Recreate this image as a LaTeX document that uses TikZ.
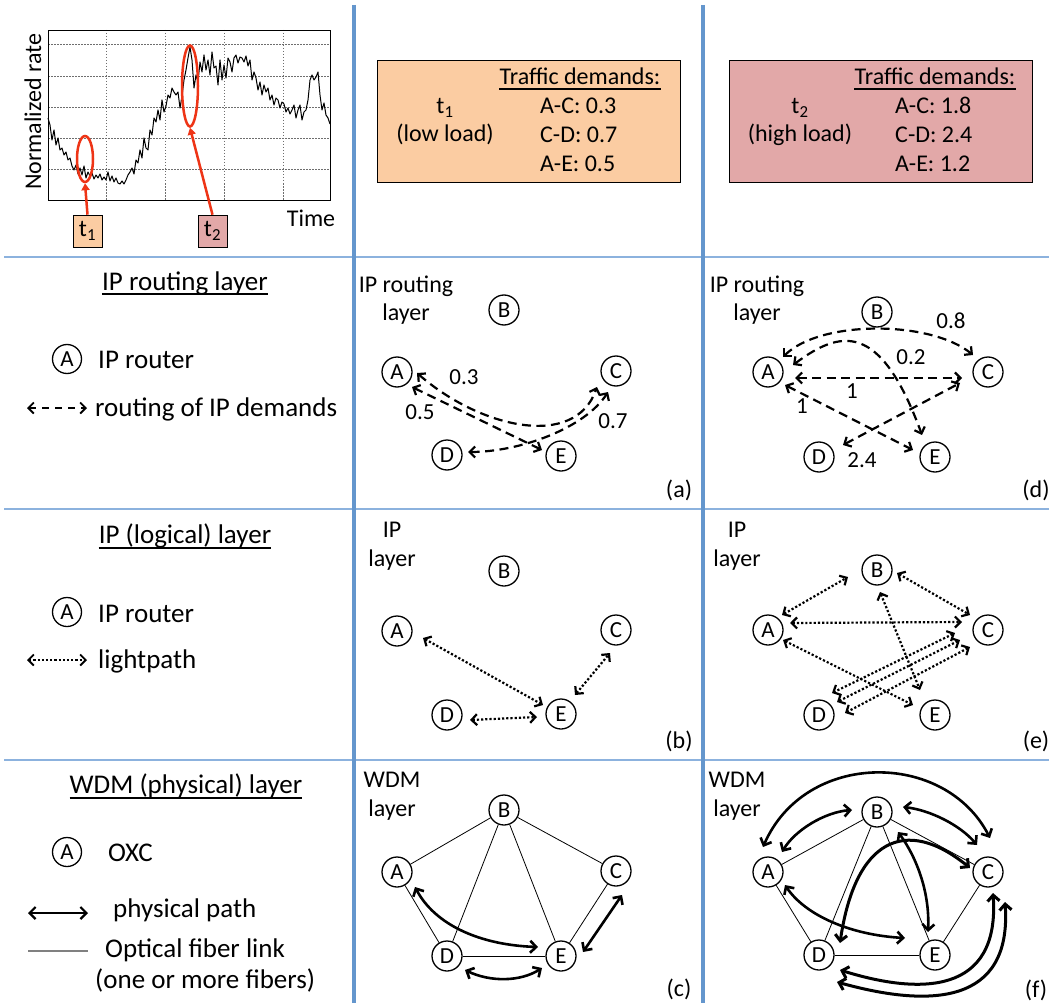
\documentclass[tikz,border=0pt]{standalone}
\usepackage{fontspec}
\setmainfont{Carlito}
\usetikzlibrary{arrows.meta,shapes.geometric,calc}
\definecolor{sepblue}{RGB}{100,150,205}
\definecolor{sepblue2}{RGB}{140,178,222}
\definecolor{peach}{RGB}{251,204,162}
\definecolor{rose}{RGB}{226,168,168}
\definecolor{redmark}{RGB}{238,52,22}
\definecolor{gridgray}{RGB}{110,110,110}
\newcommand{\myfs}[1]{\fontsize{#1}{#1}\selectfont}
\tikzset{
  nd/.style={circle, draw, line width=1.3pt, minimum size=30pt, inner sep=0pt, font=\myfs{23}},
  lnd/.style={circle, draw, line width=1.3pt, minimum size=29pt, inner sep=0pt, font=\myfs{23}},
  dsh/.style={line width=2.2pt, dash pattern=on 9pt off 5.5pt, {Straight Barb[length=5.5pt,width=11pt]}-{Straight Barb[length=5.5pt,width=11pt]}},
  dtt/.style={line width=2.2pt, dash pattern=on 2.2pt off 2pt, {Straight Barb[length=5.5pt,width=11pt]}-{Straight Barb[length=5.5pt,width=11pt]}},
  phys/.style={line width=2.6pt, {Straight Barb[length=6pt,width=12pt]}-{Straight Barb[length=6pt,width=12pt]}},
  fib/.style={line width=0.8pt},
  lbl/.style={font=\myfs{24}, inner sep=0pt},
  num/.style={font=\myfs{23}, inner sep=0pt},
  big/.style={font=\myfs{27}, inner sep=0pt},
}
\begin{document}
\begin{tikzpicture}[x=1pt,y=-1pt]
\useasboundingbox (0,0) rectangle (1049,1003);
\fill[white] (0,0) rectangle (1049,1003);

% separators
\draw[sepblue2, line width=2pt] (4,257) -- (1049,257);
\draw[sepblue2, line width=2pt] (4,509) -- (1049,509);
\draw[sepblue2, line width=2pt] (4,760) -- (1049,760);
\draw[sepblue, line width=4.5pt] (354,5) -- (354,1003);
\draw[sepblue, line width=4.5pt] (703,5) -- (703,1003);

% ---------- chart ----------
\foreach \gx in {106,165,224,283} \draw[gridgray, line width=0.6pt, dash pattern=on 1.5pt off 1.5pt] (\gx,30) -- (\gx,200);
\foreach \gy in {44,76,107,138,169} \draw[gridgray, line width=0.6pt, dash pattern=on 1.5pt off 1.5pt] (48,\gy) -- (330,\gy);
\draw[line width=0.8pt] (48,30) rectangle (330,200);
\draw[line width=1pt, line join=round] plot coordinates {
(48,118) (50,125) (52,140) (54,130) (56,145) (58,138) (60,150) (62,148) (64,155) (66,152)
(68,160) (70,158) (72,166) (74,170) (76,165) (78,174) (80,168) (82,175) (84,166) (86,178)
(88,172) (90,176) (92,173) (94,179) (96,175) (98,178) (100,174) (102,180) (104,177) (106,180)
(108,172) (110,181) (112,176) (114,182) (116,178) (118,183) (120,184) (122,181) (124,184) (126,180)
(128,175) (130,172) (132,168) (134,174) (136,160) (138,163) (140,150) (142,158) (144,138) (146,148)
(148,150) (150,130) (152,135) (154,118) (156,122) (158,110) (160,120) (162,100) (164,112) (166,106)
(168,95) (170,98) (172,88) (174,92) (176,95) (178,92) (180,108) (182,96) (184,80) (186,70)
(188,58) (190,47) (192,60) (194,88) (196,75) (198,82) (200,62) (202,72) (204,55) (206,70)
(208,60) (210,75) (212,52) (214,68) (216,66) (218,85) (220,60) (222,80) (224,65) (226,78)
(228,58) (230,62) (232,72) (234,58) (236,55) (238,63) (240,57) (242,58) (244,62) (246,56)
(248,66) (250,60) (252,80) (254,72) (256,78) (258,90) (260,82) (262,95) (264,85) (266,92)
(268,88) (270,100) (272,95) (274,105) (276,98) (278,100) (280,108) (282,102) (284,104) (286,112)
(288,108) (290,114) (292,110) (294,105) (296,118) (298,110) (300,105) (302,120) (304,112) (306,110)
(308,100) (310,80) (312,75) (314,80) (316,77) (318,72) (320,95) (322,110) (324,103) (326,115)
(328,118) (330,124)};
\node[rotate=90, font=\myfs{24}] (ylab) at (33,112) {Normalized rate};
\node[font=\myfs{24}] (xlab) at (311,218) {Time};
\node[draw, fill=peach, line width=0.6pt, minimum width=29pt, minimum height=32pt, inner sep=0pt, font=\myfs{24}] (t1box) at (87.5,231) {t\textsubscript{1}};
\node[draw, fill=rose, line width=0.6pt, minimum width=29pt, minimum height=32pt, inner sep=0pt, font=\myfs{24}] (t2box) at (212.5,231) {t\textsubscript{2}};
\node[ellipse, draw=redmark, line width=2.5pt, minimum width=16pt, minimum height=46pt, inner sep=0pt] (e1) at (85,159) {};
\node[ellipse, draw=redmark, line width=2.5pt, minimum width=16pt, minimum height=81pt, inner sep=0pt] (e2) at (190,86) {};
\draw[redmark, line width=2.5pt, -{Triangle[length=7pt,width=8pt]}] (t1box.north) -- (e1.south);
\draw[redmark, line width=2.5pt, -{Triangle[length=7pt,width=8pt]}] (t2box.north) -- (e2.south);

% ---------- traffic boxes ----------
\node[draw, fill=peach, line width=0.8pt, minimum width=303pt, minimum height=122pt, inner sep=0pt, anchor=north west] (tb1) at (377,60) {};
\node[lbl, anchor=base] (td1) at (580,85) {Traffic demands:};
\draw[line width=1.2pt] ($(td1.base west)+(0,4)$) -- ($(td1.base east)+(0,4)$);
\node[lbl, anchor=base] (tt1) at (445,114) {t\textsubscript{1}};
\node[lbl, anchor=base] (tl1) at (445,142) {(low load)};
\node[lbl, anchor=base west] (d1a) at (540,114) {A-C: 0.3};
\node[lbl, anchor=base west] (d1b) at (540,143) {C-D: 0.7};
\node[lbl, anchor=base west] (d1c) at (540,172) {A-E: 0.5};

\node[draw, fill=rose, line width=0.8pt, minimum width=303pt, minimum height=122pt, inner sep=0pt, anchor=north west] (tb2) at (729,60) {};
\node[lbl, anchor=base] (td2) at (935,85) {Traffic demands:};
\draw[line width=1.2pt] ($(td2.base west)+(0,4)$) -- ($(td2.base east)+(0,4)$);
\node[lbl, anchor=base] (tt2) at (800,114) {t\textsubscript{2}};
\node[lbl, anchor=base] (tl2) at (800,142) {(high load)};
\node[lbl, anchor=base west] (d2a) at (895,114) {A-C: 1.8};
\node[lbl, anchor=base west] (d2b) at (895,143) {C-D: 2.4};
\node[lbl, anchor=base west] (d2c) at (895,172) {A-E: 1.2};

% ---------- left legend ----------
\node[big, anchor=base] (h1) at (185,290) {IP routing layer};
\draw[line width=1.2pt] ($(h1.base west)+(0,4)$) -- ($(h1.base east)+(0,4)$);
\node[lnd] (lg1) at (67,359) {A};
\node[big, anchor=base west] (lt1) at (98,368) {IP router};
\coordinate (l1a) at (27,408); \coordinate (l1b) at (87,408);
\draw[dsh, dash pattern=on 7pt off 6pt, line width=1.8pt] (l1a) -- (l1b);
\node[big, anchor=base west] (lt2) at (95,416) {routing of IP demands};

\node[big, anchor=base] (h2) at (185,543) {IP (logical) layer};
\draw[line width=1.2pt] ($(h2.base west)+(0,5)$) -- ($(h2.base east)+(0,5)$);
\node[lnd] (lg2) at (67,612) {A};
\node[big, anchor=base west] (lt3) at (98,622) {IP router};
\coordinate (l2a) at (27,660); \coordinate (l2b) at (87,660);
\draw[dtt, line width=1.8pt] (l2a) -- (l2b);
\node[big, anchor=base west] (lt4) at (98,668) {lightpath};

\node[big, anchor=base] (h3) at (186,793) {WDM (physical) layer};
\draw[line width=1.2pt] ($(h3.base west)+(0,5)$) -- ($(h3.base east)+(0,5)$);
\node[lnd] (lg3) at (67,852) {A};
\node[big, anchor=base west] (lt5) at (108,861) {OXC};
\coordinate (l3a) at (28,913); \coordinate (l3b) at (88,913);
\draw[phys, line width=2.2pt] (l3a) -- (l3b);
\node[big, anchor=base west] (lt6) at (113,917) {physical path};
\coordinate (l4a) at (28,951); \coordinate (l4b) at (88,951);
\draw[gray, line width=1.3pt] (l4a) -- (l4b);
\node[big, anchor=base west] (lt7) at (105,957) {Optical fiber link};
\node[big, anchor=base west] (lt8) at (95,988) {(one or more fibers)};

% ---------- panel (a) ----------
\node[lbl, anchor=base] (pa1) at (406,292) {IP routing};
\node[lbl, anchor=base] (pa2) at (406,320) {layer};
\node[nd] (aA) at (397,372) {A};
\node[nd] (aB) at (504,310) {B};
\node[nd] (aC) at (616,371) {C};
\node[nd] (aD) at (447,455) {D};
\node[nd] (aE) at (561,456) {E};
\draw[dsh] ($(aA)+(20,1)$) .. controls (480,428) and (575,450) .. ($(aC)+(-19,16)$);
\draw[dsh] ($(aA)+(15,15)$) -- ($(aE)+(-19,-6)$);
\draw[dsh] ($(aD)+(21,-3)$) .. controls (520,452) and (585,428) .. ($(aC)+(-8,21)$);
\node[num] (na1) at (464,377) {0.3};
\node[num] (na2) at (420,412) {0.5};
\node[num] (na3) at (613,421) {0.7};
\node[lbl, anchor=base] (taga) at (679,497) {(a)};

% ---------- panel (d) ----------
\node[lbl, anchor=base] (pd1) at (757,292) {IP routing};
\node[lbl, anchor=base] (pd2) at (757,320) {layer};
\node[nd] (dA) at (768,372) {A};
\node[nd] (dB) at (877,312) {B};
\node[nd] (dC) at (988,372) {C};
\node[nd] (dD) at (819,457) {D};
\node[nd] (dE) at (935,457) {E};
\draw[dsh] ($(dA)+(15,-15)$) .. controls (820,320) and (930,320) .. ($(dC)+(-15,-17)$);
\draw[dsh] ($(dA)+(25,-7)$) .. controls (840,330) and (880,320) .. ($(dE)+(-13,-22)$);
\draw[dsh] ($(dA)+(27,6)$) -- ($(dC)+(-26,6)$);
\draw[dsh] ($(dA)+(17,13)$) -- ($(dE)+(-22,-7)$);
\draw[dsh] ($(dD)+(24,-12)$) -- ($(dC)+(-28,11)$);
\node[num] (nd1) at (951,321) {0.8};
\node[num] (nd2) at (911,357) {0.2};
\node[num] (nd3) at (852,391) {1};
\node[num] (nd4) at (802,406) {1};
\node[num] (nd5) at (862,460) {2.4};
\node[lbl, anchor=base] (tagd) at (1036,497) {(d)};

% ---------- panel (b) ----------
\node[lbl, anchor=base] (pb1) at (392,537) {IP};
\node[lbl, anchor=base] (pb2) at (392,566) {layer};
\node[nd] (bA) at (397,631) {A};
\node[nd] (bB) at (504,571) {B};
\node[nd] (bC) at (616,630) {C};
\node[nd] (bD) at (447,715) {D};
\node[nd] (bE) at (561,714) {E};
\draw[dtt] ($(bA)+(26,7)$) -- ($(bE)+(-18,-9)$);
\draw[dtt] ($(bE)+(14,-19)$) -- ($(bC)+(-6,23)$);
\draw[dtt] ($(bD)+(23,5)$) -- ($(bE)+(-24,3)$);
\node[lbl, anchor=base] (tagb) at (679,748) {(b)};

% ---------- panel (e) ----------
\node[lbl, anchor=base] (pe1) at (737,537) {IP};
\node[lbl, anchor=base] (pe2) at (737,566) {layer};
\node[nd] (eA) at (768,630) {A};
\node[nd] (eB) at (877,570) {B};
\node[nd] (eC) at (988,630) {C};
\node[nd] (eD) at (819,715) {D};
\node[nd] (eE) at (935,715) {E};
\draw[dtt] ($(eA)+(14,-15)$) -- ($(eB)+(-29,7)$);
\draw[dtt] ($(eB)+(20,3)$) -- ($(eC)+(-18,-15)$);
\draw[dtt] ($(eA)+(22,-7)$) -- ($(eC)+(-26,-8)$);
\draw[dtt] ($(eB)+(3,22)$) -- ($(eE)+(-15,-25)$);
\draw[dtt] ($(eA)+(15,10)$) -- ($(eE)+(-22,-10)$);
\draw[dtt] ($(eC)+(-33,3)$) -- ($(eD)+(13,-22)$);
\draw[dtt] ($(eC)+(-28,10)$) -- ($(eD)+(18,-13)$);
\draw[dtt] ($(eC)+(-18,17)$) -- ($(eD)+(26,-2)$);
\node[lbl, anchor=base] (tage) at (1036,748) {(e)};

% ---------- panel (c) ----------
\node[lbl, anchor=base] (pc1) at (392,787) {WDM};
\node[lbl, anchor=base] (pc2) at (392,816) {layer};
\node[nd] (cA) at (397,872) {A};
\node[nd] (cB) at (504,810) {B};
\node[nd] (cC) at (616,871) {C};
\node[nd] (cD) at (447,956) {D};
\node[nd] (cE) at (561,956) {E};
\draw[fib] (cA) -- (cB);
\draw[fib] (cB) -- (cC);
\draw[fib] (cB) -- (cD);
\draw[fib] (cB) -- (cE);
\draw[fib] (cA) -- (cD);
\draw[fib] (cC) -- (cE);
\draw[fib] (cD) -- (cE);
\draw[phys] ($(cA)+(18,15)$) .. controls (435,925) and (480,945) .. ($(cE)+(-23,-9)$);
\draw[phys] ($(cD)+(18,14)$) .. controls (490,982) and (520,982) .. ($(cE)+(-19,12)$);
\draw[phys] ($(cE)+(22,-4)$) -- ($(cC)+(6,24)$);
\node[lbl, anchor=base] (tagc) at (679,996) {(c)};

% ---------- panel (f) ----------
\node[lbl, anchor=base] (pf1) at (737,787) {WDM};
\node[lbl, anchor=base] (pf2) at (737,816) {layer};
\node[nd] (fA) at (768,872) {A};
\node[nd] (fB) at (877,812) {B};
\node[nd] (fC) at (988,872) {C};
\node[nd] (fD) at (819,955) {D};
\node[nd] (fE) at (935,955) {E};
\draw[fib] (fA) -- (fB);
\draw[fib] (fB) -- (fC);
\draw[fib] (fB) -- (fD);
\draw[fib] (fB) -- (fE);
\draw[fib] (fA) -- (fD);
\draw[fib] (fC) -- (fE);
\draw[fib] (fD) -- (fE);
\draw[phys] ($(fA)+(-5,-25)$) .. controls (805,750) and (945,750) .. ($(fC)+(2,-34)$);
\draw[phys] ($(fA)+(14,-20)$) .. controls (795,830) and (825,812) .. ($(fB)+(-25,-2)$);
\draw[phys] ($(fB)+(26,-5)$) .. controls (930,810) and (960,825) .. ($(fC)+(-11,-27)$);
\draw[phys, line width=3pt] ($(fD)+(21,-12)$) .. controls (855,840) and (905,815) .. ($(fC)+(-18,-4)$);
\draw[phys] ($(fB)+(21,20)$) .. controls (915,855) and (930,890) .. ($(fE)+(-7,-23)$);
\draw[phys] ($(fA)+(17,13)$) .. controls (805,915) and (850,935) .. ($(fE)+(-30,-17)$);
\draw[phys, line width=3pt] ($(fD)+(21,15)$) .. controls (920,995) and (1000,995) .. ($(fC)+(5,21)$);
\draw[phys, line width=3pt] ($(fD)+(18,27)$) .. controls (930,1008) and (1012,1005) .. ($(fC)+(17,30)$);
\node[lbl, anchor=base] (tagf) at (1036,997) {(f)};
\end{tikzpicture}
\end{document}
